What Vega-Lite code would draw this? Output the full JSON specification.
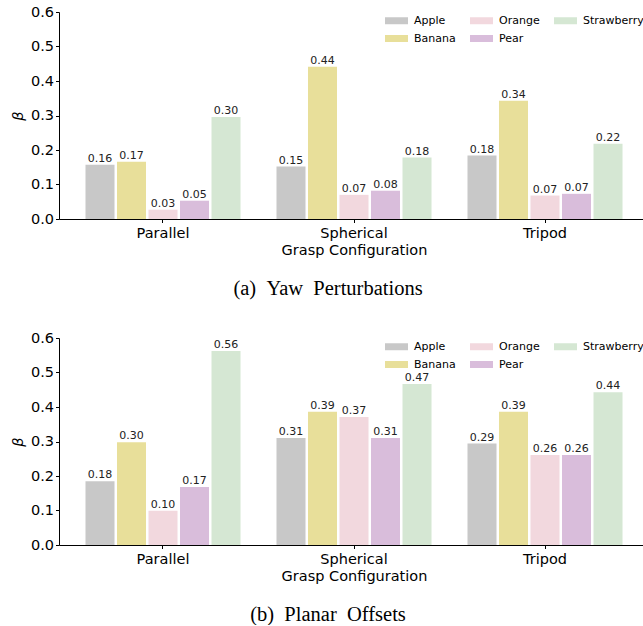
{
  "$schema": "https://vega.github.io/schema/vega-lite/v6.json",
  "padding": {"left": 10, "top": 4, "right": 0, "bottom": 0},
  "spacing": 31,
  "config": {
    "view": {"stroke": null},
    "font": "DejaVu Sans",
    "axis": {
      "grid": false,
      "domainColor": "#000000",
      "domainWidth": 1,
      "tickColor": "#000000",
      "tickWidth": 1,
      "tickSize": 3.5,
      "labelColor": "#000000",
      "labelFont": "DejaVu Sans",
      "labelFontSize": 14.5,
      "labelPadding": 2,
      "titleColor": "#000000",
      "titleFont": "DejaVu Sans",
      "titleFontSize": 14.5,
      "titleFontWeight": "normal"
    },
    "axisX": {"labelPadding": 4},
    "legend": {
      "labelFont": "DejaVu Sans",
      "labelFontSize": 11,
      "labelColor": "#000000"
    }
  },
  "datasets": {
    "yaw": [
      {"grasp": "Parallel", "fruit": "Apple", "beta": 0.157},
      {"grasp": "Parallel", "fruit": "Banana", "beta": 0.166},
      {"grasp": "Parallel", "fruit": "Orange", "beta": 0.027},
      {"grasp": "Parallel", "fruit": "Pear", "beta": 0.053},
      {"grasp": "Parallel", "fruit": "Strawberry", "beta": 0.296},
      {"grasp": "Spherical", "fruit": "Apple", "beta": 0.152},
      {"grasp": "Spherical", "fruit": "Banana", "beta": 0.441},
      {"grasp": "Spherical", "fruit": "Orange", "beta": 0.070},
      {"grasp": "Spherical", "fruit": "Pear", "beta": 0.082},
      {"grasp": "Spherical", "fruit": "Strawberry", "beta": 0.178},
      {"grasp": "Tripod", "fruit": "Apple", "beta": 0.184},
      {"grasp": "Tripod", "fruit": "Banana", "beta": 0.343},
      {"grasp": "Tripod", "fruit": "Orange", "beta": 0.068},
      {"grasp": "Tripod", "fruit": "Pear", "beta": 0.073},
      {"grasp": "Tripod", "fruit": "Strawberry", "beta": 0.218}
    ],
    "planar": [
      {"grasp": "Parallel", "fruit": "Apple", "beta": 0.185},
      {"grasp": "Parallel", "fruit": "Banana", "beta": 0.298},
      {"grasp": "Parallel", "fruit": "Orange", "beta": 0.099},
      {"grasp": "Parallel", "fruit": "Pear", "beta": 0.168},
      {"grasp": "Parallel", "fruit": "Strawberry", "beta": 0.562},
      {"grasp": "Spherical", "fruit": "Apple", "beta": 0.310},
      {"grasp": "Spherical", "fruit": "Banana", "beta": 0.386},
      {"grasp": "Spherical", "fruit": "Orange", "beta": 0.371},
      {"grasp": "Spherical", "fruit": "Pear", "beta": 0.310},
      {"grasp": "Spherical", "fruit": "Strawberry", "beta": 0.467},
      {"grasp": "Tripod", "fruit": "Apple", "beta": 0.294},
      {"grasp": "Tripod", "fruit": "Banana", "beta": 0.386},
      {"grasp": "Tripod", "fruit": "Orange", "beta": 0.261},
      {"grasp": "Tripod", "fruit": "Pear", "beta": 0.261},
      {"grasp": "Tripod", "fruit": "Strawberry", "beta": 0.443}
    ]
  },
  "vconcat": [
    {
      "width": 590,
      "height": 207,
      "data": {"name": "yaw"},
      "title": {"text": "(a)\u2002Yaw\u2002Perturbations", "orient": "bottom", "anchor": "middle", "font": "Liberation Serif", "fontSize": 20.5, "fontWeight": "normal", "color": "#000000", "offset": 22, "dx": -26},
      "encoding": {
        "x": {"field": "grasp", "type": "nominal", "scale": {"domain": ["Parallel", "Spherical", "Tripod"], "paddingInner": 0, "paddingOuter": 0.0445}, "axis": {"title": "Grasp Configuration", "labelAngle": 0, "titlePadding": 3}},
        "xOffset": {"field": "fruit", "type": "nominal", "scale": {"domain": ["Apple", "Banana", "Orange", "Pear", "Strawberry"], "paddingInner": 0.079, "paddingOuter": 0.571}},
        "y": {"field": "beta", "type": "quantitative", "scale": {"domain": [0, 0.6], "nice": false}, "axis": {"title": "β", "titleFontStyle": "italic", "titlePadding": 5, "values": [0, 0.1, 0.2, 0.3, 0.4, 0.5, 0.6], "format": ".1f"}}
      },
      "layer": [
        {
          "mark": {"type": "bar"},
          "encoding": {
            "color": {"field": "fruit", "type": "nominal", "scale": {"domain": ["Apple", "Banana", "Orange", "Pear", "Strawberry"], "range": ["#c8c8c8", "#e8df9a", "#f2d8de", "#d9bddb", "#d5e7d3"]},
              "legend": {"title": null, "orient": "none", "legendX": 332, "legendY": 3, "columns": 3, "symbolType": "M-2.3,-0.7H2.3V0.7H-2.3Z", "symbolSize": 100, "symbolStrokeWidth": 0, "labelOffset": 12, "columnPadding": 14, "rowPadding": 6}}
          }
        },
        {
          "mark": {"type": "text", "baseline": "bottom", "dy": -1, "fontSize": 11, "color": "#222222", "font": "DejaVu Sans"},
          "encoding": {"text": {"field": "beta", "type": "quantitative", "format": ".2f"}}
        }
      ]
    },
    {
      "width": 590,
      "height": 207,
      "data": {"name": "planar"},
      "title": {"text": "(b)\u2002Planar\u2002Offsets", "orient": "bottom", "anchor": "middle", "font": "Liberation Serif", "fontSize": 20.5, "fontWeight": "normal", "color": "#000000", "offset": 22, "dx": -26},
      "encoding": {
        "x": {"field": "grasp", "type": "nominal", "scale": {"domain": ["Parallel", "Spherical", "Tripod"], "paddingInner": 0, "paddingOuter": 0.0445}, "axis": {"title": "Grasp Configuration", "labelAngle": 0, "titlePadding": 3}},
        "xOffset": {"field": "fruit", "type": "nominal", "scale": {"domain": ["Apple", "Banana", "Orange", "Pear", "Strawberry"], "paddingInner": 0.079, "paddingOuter": 0.571}},
        "y": {"field": "beta", "type": "quantitative", "scale": {"domain": [0, 0.6], "nice": false}, "axis": {"title": "β", "titleFontStyle": "italic", "titlePadding": 5, "values": [0, 0.1, 0.2, 0.3, 0.4, 0.5, 0.6], "format": ".1f"}}
      },
      "layer": [
        {
          "mark": {"type": "bar"},
          "encoding": {
            "color": {"field": "fruit", "type": "nominal", "scale": {"domain": ["Apple", "Banana", "Orange", "Pear", "Strawberry"], "range": ["#c8c8c8", "#e8df9a", "#f2d8de", "#d9bddb", "#d5e7d3"]},
              "legend": {"title": null, "orient": "none", "legendX": 332, "legendY": 3, "columns": 3, "symbolType": "M-2.3,-0.7H2.3V0.7H-2.3Z", "symbolSize": 100, "symbolStrokeWidth": 0, "labelOffset": 12, "columnPadding": 14, "rowPadding": 6}}
          }
        },
        {
          "mark": {"type": "text", "baseline": "bottom", "dy": -1, "fontSize": 11, "color": "#222222", "font": "DejaVu Sans"},
          "encoding": {"text": {"field": "beta", "type": "quantitative", "format": ".2f"}}
        }
      ]
    }
  ],
  "resolve": {"scale": {"color": "independent"}}
}
